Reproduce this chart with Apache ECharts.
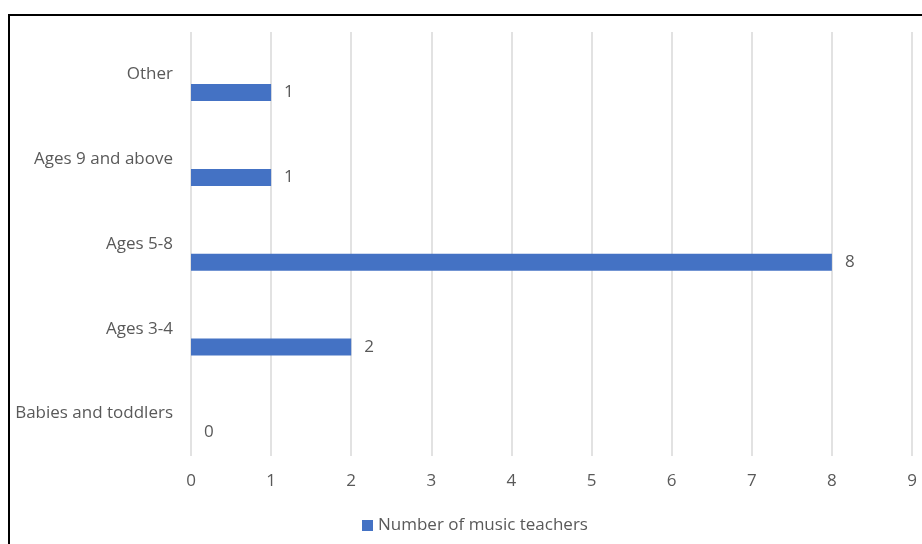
<!DOCTYPE html>
<html><head><meta charset="utf-8">
<script src="https://cdn.jsdelivr.net/npm/echarts@6/dist/echarts.min.js"></script>
<style>html,body{margin:0;padding:0;background:#fff}#c{width:922px;height:544px}</style>
</head><body><div id="c"></div>
<script>
const categories = ['Babies and toddlers', 'Ages 3-4', 'Ages 5-8', 'Ages 9 and above', 'Other'];
const teachers = [0, 2, 8, 1, 1];
const seriesName = 'Number of music teachers';
const xMin = 0, xMax = 9, xStep = 1;

const chart = echarts.init(document.getElementById('c'), null, {renderer: 'canvas'});
const font = 'Open Sans, Noto Sans, sans-serif';
chart.setOption({
  animation: false,
  textStyle: {fontFamily: font},
  graphic: [{
    type: 'polyline', silent: true,
    shape: {points: [[9, 544], [9, 15], [922, 15]]},
    style: {stroke: '#000', lineWidth: 2, fill: null}
  }],
  grid: {left: 191, right: 10, top: 32, bottom: 88, containLabel: false},
  legend: {
    data: [seriesName], bottom: 5, left: 357,
    icon: 'rect', itemWidth: 11, itemHeight: 11, itemGap: 6,
    textStyle: {color: '#595959', fontSize: 17, fontFamily: font}
  },
  xAxis: {
    type: 'value', min: xMin, max: xMax, interval: xStep,
    axisLine: {show: false}, axisTick: {show: false},
    splitLine: {lineStyle: {color: '#d9d9d9', width: 1.5}},
    axisLabel: {color: '#595959', fontSize: 17, margin: 17, fontFamily: font}
  },
  yAxis: {
    type: 'category', data: categories,
    axisLine: {show: false}, axisTick: {show: false},
    axisLabel: {color: '#595959', fontSize: 17, margin: 18, fontFamily: font, padding: [0, 0, 3, 0]}
  },
  series: [{
    name: 'pad', type: 'bar', data: categories.map(() => '-'), barWidth: 17, barGap: '114%',
    itemStyle: {color: 'transparent'}, silent: true
  }, {
    name: seriesName, type: 'bar', data: teachers, barWidth: 17,
    itemStyle: {color: '#4472C4'},
    label: {show: true, position: 'right', distance: 13, color: '#595959', fontSize: 17, fontFamily: font}
  }]
});
</script></body></html>
